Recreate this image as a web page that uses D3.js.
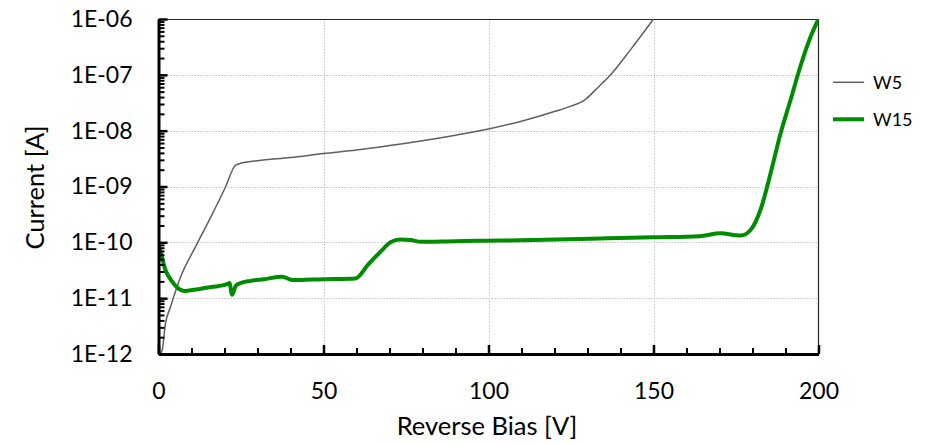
<!DOCTYPE html>
<html>
<head>
<meta charset="utf-8">
<script src="https://cdn.jsdelivr.net/npm/d3@7"></script>
<style>
  html, body { margin: 0; padding: 0; background: #fff; }
  svg { display: block; }
  text { font-family: Lato, "Open Sans", sans-serif; fill: #000; }
</style>
</head>
<body>
<svg id="chart" width="932" height="444"></svg>
<script>
// ---- data ----
const xTicks = [0, 50, 100, 150, 200];
const yTicks = [1e-12, 1e-11, 1e-10, 1e-9, 1e-8, 1e-7, 1e-6];
const seriesNames = ["W5", "W15"];

const w5Bias = [0.3, 1.1, 2.1, 3.6, 6.7, 11.2, 15.8, 20.3, 23.3, 24.8, 30, 40, 50, 60, 70, 80, 90, 100, 110, 120, 125, 129, 133, 137, 143, 150];
const w5Current = [1.0e-12, 1.17e-12, 3.5e-12, 6.9e-12, 2.4e-11, 8.3e-11, 2.8e-10, 9.8e-10, 2.4e-9, 2.6e-9, 2.9e-9, 3.3e-9, 3.9e-9, 4.5e-9, 5.4e-9, 6.6e-9, 8.3e-9, 1.07e-8, 1.48e-8, 2.2e-8, 2.75e-8, 3.5e-8, 5.8e-8, 1.0e-7, 2.8e-7, 1.0e-6];

const w15Bias = [0, 0.3, 2.1, 4.1, 6.7, 8.2, 12, 16, 20.8, 21.5, 22.3, 23.5, 24.8, 27.9, 32, 37.5, 40.5, 50, 59.7, 63.5, 67.3, 70.3, 73.3, 76.4, 79.4, 90, 100, 113.6, 134, 150, 164, 170.3, 176.4, 179.4, 182.4, 185.5, 188.5, 191.5, 194.5, 197.6, 200];
const w15Current = [8.9e-11, 7.9e-11, 3.2e-11, 2.0e-11, 1.41e-11, 1.35e-11, 1.45e-11, 1.58e-11, 1.78e-11, 1.86e-11, 1.15e-11, 1.7e-11, 1.86e-11, 2.04e-11, 2.19e-11, 2.43e-11, 2.11e-11, 2.19e-11, 2.26e-11, 4.0e-11, 6.8e-11, 1.0e-10, 1.12e-10, 1.10e-10, 1.02e-10, 1.05e-10, 1.07e-10, 1.10e-10, 1.17e-10, 1.23e-10, 1.29e-10, 1.45e-10, 1.32e-10, 1.66e-10, 3.8e-10, 1.74e-9, 8.9e-9, 3.5e-8, 1.41e-7, 4.8e-7, 1.0e-6];

// ---- layout ----
const svg = d3.select("#chart");
const pL = 158.5, pR = 818.5, pT = 19, pB = 354;

const x = d3.scaleLinear().domain([0, 200]).range([pL, pR]);
const y = d3.scaleLog().domain([1e-12, 1e-6]).range([pB, pT]);

const fmt = v => "1E-" + String(Math.round(-Math.log10(v))).padStart(2, "0");

// clip
svg.append("clipPath").attr("id", "clip")
  .append("rect").attr("x", pL).attr("y", pT).attr("width", pR - pL).attr("height", pB - pT);

// gridlines
const grid = svg.append("g").attr("stroke", "#c4c4c4").attr("stroke-width", 1).attr("stroke-dasharray", "1.5,1.5");
grid.selectAll("line.h").data(yTicks.slice(1, -1)).join("line")
  .attr("x1", pL).attr("x2", pR)
  .attr("y1", d => Math.round(y(d)) + 0.5).attr("y2", d => Math.round(y(d)) + 0.5);
grid.selectAll("line.v").data(xTicks.slice(1, -1)).join("line")
  .attr("y1", pT).attr("y2", pB)
  .attr("x1", d => Math.round(x(d)) + 0.5).attr("x2", d => Math.round(x(d)) + 0.5);

// border (top, right)
svg.append("path")
  .attr("d", `M${pL},${pT + 0.5}H${pR}V${pB}`)
  .attr("fill", "none").attr("stroke", "#262626").attr("stroke-width", 1.2);

// series
const line = d3.line().x(d => x(d[0])).y(d => y(d[1])).curve(d3.curveMonotoneX);
const w5 = w5Bias.map((v, i) => [v, w5Current[i]]);
const w15 = w15Bias.map((v, i) => [v, w15Current[i]]);
const plot = svg.append("g").attr("clip-path", "url(#clip)");
plot.append("path").datum(w5).attr("d", line)
  .attr("fill", "none").attr("stroke", "#5f5f5f").attr("stroke-width", 1.5);
plot.append("path").datum(w15).attr("d", line)
  .attr("fill", "none").attr("stroke", "#008c00").attr("stroke-width", 4).attr("stroke-linejoin", "round");

// y axis minor ticks
const yMinor = [];
for (let e = -12; e < -6; e++) for (let m = 2; m <= 9; m++) yMinor.push(m * Math.pow(10, e));
svg.append("g").attr("transform", `translate(${pL},0)`)
  .call(d3.axisLeft(y).tickValues(yMinor).tickFormat("").tickSizeInner(-6).tickSizeOuter(0))
  .call(g => g.select(".domain").remove())
  .call(g => g.selectAll(".tick line").attr("stroke", "#000").attr("stroke-width", 2));

// y axis major
const yAx = svg.append("g").attr("transform", `translate(${pL},0)`)
  .call(d3.axisLeft(y).tickValues(yTicks).tickFormat(fmt).tickSizeInner(-9).tickSizeOuter(0).tickPadding(26));
yAx.select(".domain").attr("stroke", "#000").attr("stroke-width", 3);
yAx.selectAll(".tick line").attr("stroke", "#000").attr("stroke-width", 2.5);
yAx.selectAll(".tick text").style("font-family", "Lato, sans-serif").style("font-size", "23px").attr("fill", "#000");

// x axis minor ticks
const xMinor = d3.range(10, 200, 10).filter(v => v % 50 !== 0);
svg.append("g").attr("transform", `translate(0,${pB})`)
  .call(d3.axisBottom(x).tickValues(xMinor).tickFormat("").tickSizeInner(-6).tickSizeOuter(0))
  .call(g => g.select(".domain").remove())
  .call(g => g.selectAll(".tick line").attr("stroke", "#000").attr("stroke-width", 2));

// x axis major
const xAx = svg.append("g").attr("transform", `translate(0,${pB})`)
  .call(d3.axisBottom(x).tickValues(xTicks).tickFormat(d3.format("d")).tickSizeInner(-9).tickSizeOuter(0).tickPadding(29));
xAx.select(".domain").attr("stroke", "#000").attr("stroke-width", 3);
xAx.selectAll(".tick line").attr("stroke", "#000").attr("stroke-width", 2.5);
xAx.selectAll(".tick text").style("font-family", "Lato, sans-serif").style("font-size", "23px").attr("fill", "#000");

// axis titles
svg.append("text").attr("x", 487).attr("y", 435)
  .attr("text-anchor", "middle").style("font-size", "25.5px").text("Reverse Bias [V]");
svg.append("text").attr("transform", `translate(44,${(pT + pB) / 2 + 1}) rotate(-90)`)
  .attr("text-anchor", "middle").style("font-size", "25.5px").text("Current [A]");

// legend
const legend = svg.append("g");
const legY = [82.3, 119.3];
const legStroke = ["#5f5f5f", "#008c00"];
const legW = [1.5, 4];
seriesNames.forEach((n, i) => {
  legend.append("line").attr("x1", 833).attr("x2", 864).attr("y1", legY[i]).attr("y2", legY[i])
    .attr("stroke", legStroke[i]).attr("stroke-width", legW[i]);
  legend.append("text").attr("x", 873).attr("y", legY[i]).attr("dy", "0.36em")
    .style("font-size", "18px").text(n);
});
</script>
</body>
</html>
